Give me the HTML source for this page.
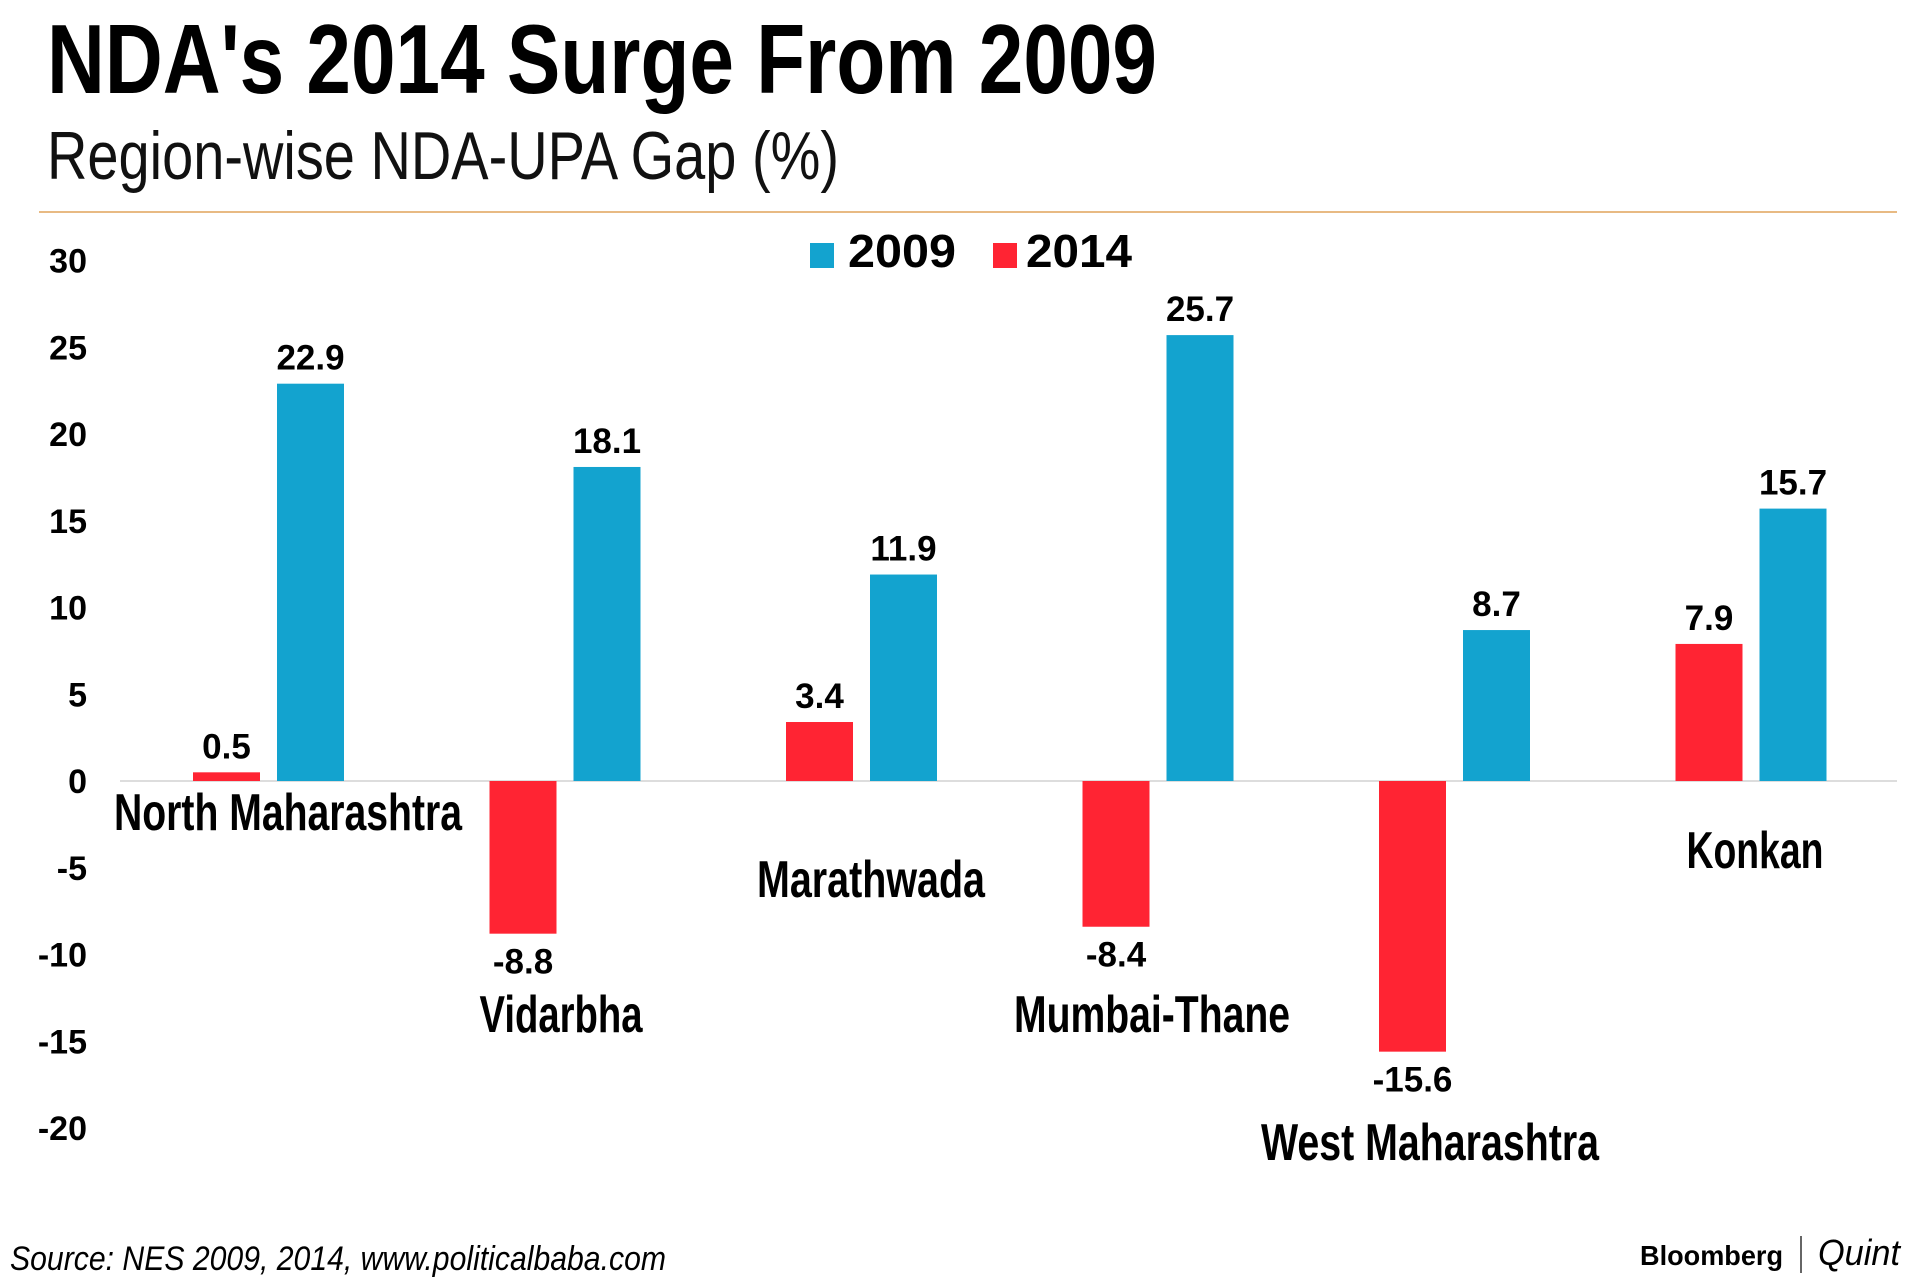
<!DOCTYPE html>
<html><head><meta charset="utf-8"><style>
html,body{margin:0;padding:0;background:#fff;width:1920px;height:1278px;overflow:hidden}
svg{display:block}
text{font-family:"Liberation Sans Narrow","Liberation Sans",sans-serif}
</style></head><body>
<svg id="chart" width="1920" height="1278" viewBox="0 0 1920 1278" xmlns="http://www.w3.org/2000/svg">
<text x="47" y="93" font-size="98" font-weight="bold" textLength="1110" lengthAdjust="spacingAndGlyphs">NDA's 2014 Surge From 2009</text>
<text x="47" y="179" font-size="68" textLength="792" lengthAdjust="spacingAndGlyphs" fill="#111">Region-wise NDA-UPA Gap (%)</text>
<line x1="39" y1="212" x2="1897" y2="212" stroke="#e0a35a" stroke-width="1.5"/>
<g>
<rect x="810" y="243" width="24" height="25" fill="#13a3cf"/>
<text x="848" y="267" font-size="46" font-weight="bold" textLength="108" lengthAdjust="spacingAndGlyphs">2009</text>
<rect x="993" y="243" width="24" height="25" fill="#ff2433"/>
<text x="1026" y="267" font-size="46" font-weight="bold" textLength="106" lengthAdjust="spacingAndGlyphs">2014</text>
</g>
<g id="ticks"></g>
<line x1="120" y1="781" x2="1897" y2="781" stroke="#ddd" stroke-width="2"/>
<g id="bars"></g>
<text x="10" y="1270" font-size="34" font-style="italic" textLength="656" lengthAdjust="spacingAndGlyphs">Source: NES 2009, 2014, www.politicalbaba.com</text>
<text x="1640" y="1265" font-family="Liberation Sans" font-size="28" font-weight="bold" textLength="143" lengthAdjust="spacingAndGlyphs">Bloomberg</text>
<line x1="1801" y1="1236" x2="1801" y2="1273" stroke="#333" stroke-width="1.5"/>
<text x="1818" y="1265" font-family="Liberation Serif" font-size="36" font-style="italic" textLength="82" lengthAdjust="spacingAndGlyphs">Quint</text>
</svg>
<script>
const categories=["North Maharashtra","Vidarbha","Marathwada","Mumbai-Thane","West Maharashtra","Konkan"];
const values2014=[0.5,-8.8,3.4,-8.4,-15.6,7.9];
const values2009=[22.9,18.1,11.9,25.7,8.7,15.7];
const labels2014=["0.5","-8.8","3.4","-8.4","-15.6","7.9"];
const labels2009=["22.9","18.1","11.9","25.7","8.7","15.7"];
const tickValues=[30,25,20,15,10,5,0,-5,-10,-15,-20];
const tickLabels=["30","25","20","15","10","5","0","-5","-10","-15","-20"];

const NS="http://www.w3.org/2000/svg";
const y0=781, unit=17.35;
function y(v){return y0-v*unit;}
function gx(i){return 193+i*296.5;}
const barW=67;
const catLabelPos=[[288,830,348],[561,1032,163],[871,897,228],[1152,1032,276],[1430,1160,338],[1755,868,137]];
function mk(tag,attrs,parent){const e=document.createElementNS(NS,tag);for(const k in attrs)e.setAttribute(k,attrs[k]);parent.appendChild(e);return e;}
const tg=document.getElementById('ticks');
tickValues.forEach((v,i)=>{
  const t=mk('text',{x:87,y:y(v)+12,'font-size':34,'font-weight':'bold','text-anchor':'end'},tg);
  
  
  t.textContent=tickLabels[i];
});
const bg=document.getElementById('bars');
categories.forEach((c,i)=>{
  const v1=values2014[i], v2=values2009[i];
  const xr=gx(i), xb=gx(i)+84;
  const r=mk('rect',{x:xr,y:Math.min(y(v1),y0),width:barW,height:Math.abs(y(v1)-y0),fill:'#ff2433'},bg);
  
  
  const b=mk('rect',{x:xb,y:Math.min(y(v2),y0),width:barW,height:Math.abs(y(v2)-y0),fill:'#13a3cf'},bg);
  
  
  const l1=mk('text',{x:xr+barW/2,y:v1>=0?y(v1)-14:y(v1)+40,'font-size':35,'font-weight':'bold','text-anchor':'middle','font-family':'Liberation Sans'},bg);
  
  
  l1.textContent=labels2014[i];
  const l2=mk('text',{x:xb+barW/2,y:v2>=0?y(v2)-14:y(v2)+40,'font-size':35,'font-weight':'bold','text-anchor':'middle','font-family':'Liberation Sans'},bg);
  
  
  l2.textContent=labels2009[i];
  const p=catLabelPos[i];
  const cl=mk('text',{x:p[0]-p[2]/2,y:p[1],'font-size':52,'font-weight':'bold',textLength:p[2],lengthAdjust:'spacingAndGlyphs'},bg);
  
  
  cl.textContent=c;
});
</script>
</body></html>
